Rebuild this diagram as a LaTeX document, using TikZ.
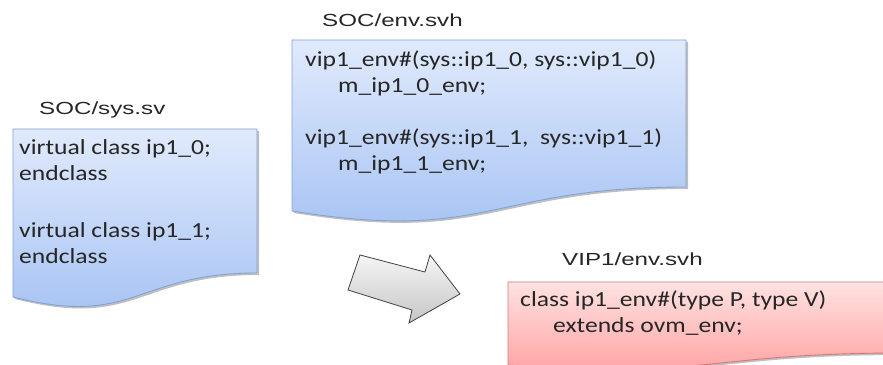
\documentclass[tikz,border=0pt]{standalone}
\usepackage{fontspec}
\usetikzlibrary{shadows}
\newfontfamily\bodyfont[FakeStretch=1.19]{Carlito}
\newfontfamily\titlefont[FakeStretch=1.38]{Liberation Sans}

\definecolor{blueTop}{RGB}{224,234,252}
\definecolor{blueBot}{RGB}{164,193,243}
\definecolor{blueLine}{RGB}{130,162,214}
\definecolor{redTop}{RGB}{255,226,226}
\definecolor{redBot}{RGB}{255,158,158}
\definecolor{redLine}{RGB}{214,120,120}

\begin{document}
\begin{tikzpicture}[
    x=1pt, y=1pt,
    title/.style={anchor=base west, inner sep=0pt, text=black!85, font=\titlefont\fontsize{17.5}{20}\selectfont},
    code/.style={anchor=base west, inner sep=0pt, align=left, text=black!85, font=\bodyfont\fontsize{21.5}{26.5}\selectfont},
    bluedoc/.style={draw=blueLine, line width=0.9pt, top color=blueTop, bottom color=blueBot,
        drop shadow={shadow xshift=2pt, shadow yshift=-2pt, opacity=0.25, fill=black}},
    reddoc/.style={draw=redLine, line width=0.9pt, top color=redTop, bottom color=redBot,
        drop shadow={shadow xshift=2pt, shadow yshift=-2pt, opacity=0.25, fill=black}},
    bigarrow/.style={draw=black!75, line width=0.8pt, top color=gray!8, bottom color=gray!45}
]
\clip (0,0) rectangle (883,364);

% SOC/sys.sv
\path[bluedoc] (13,235) -- (257,235) -- (257,91)
    .. controls (135,91) and (135,36) .. (13,67) -- cycle;
\node[title] (systitle) at (39,249) {SOC/sys.sv};
% base = last line
\node[code] (syscode) at (19,100) {virtual class ip1\_0;\\ endclass\\[30pt]
    virtual class ip1\_1;\\ endclass};

% SOC/env.svh
\path[bluedoc] (292,324) -- (686,324) -- (686,177)
    .. controls (489,177) and (489,121) .. (292,153) -- cycle;
\node[title] (envtitle) at (322,337) {SOC/env.svh};
\node[code] (envcode) at (305,193) {vip1\_env\#(sys::ip1\_0, sys::vip1\_0)\\
    \hspace*{33pt}m\_ip1\_0\_env;\\[25pt]
    vip1\_env\#(sys::ip1\_1,\ \ sys::vip1\_1)\\
    \hspace*{33pt}m\_ip1\_1\_env;};

% VIP1/env.svh
\path[reddoc] (508,82) -- (902,82) -- (902,11)
    .. controls (705,11) and (705,-16) .. (508,-1) -- cycle;
\node[title] (viptitle) at (562,98) {VIP1/env.svh};
\node[code] (vipcode) at (520,31) {class ip1\_env\#(type P, type V)\\
    \hspace*{33pt}extends ovm\_env;};

% block arrow
\path[bigarrow] (360,109) -- (425,92) -- (430,109) -- (460,70)
    -- (409,41) -- (412,54) -- (348,74) -- cycle;

\end{tikzpicture}
\end{document}
